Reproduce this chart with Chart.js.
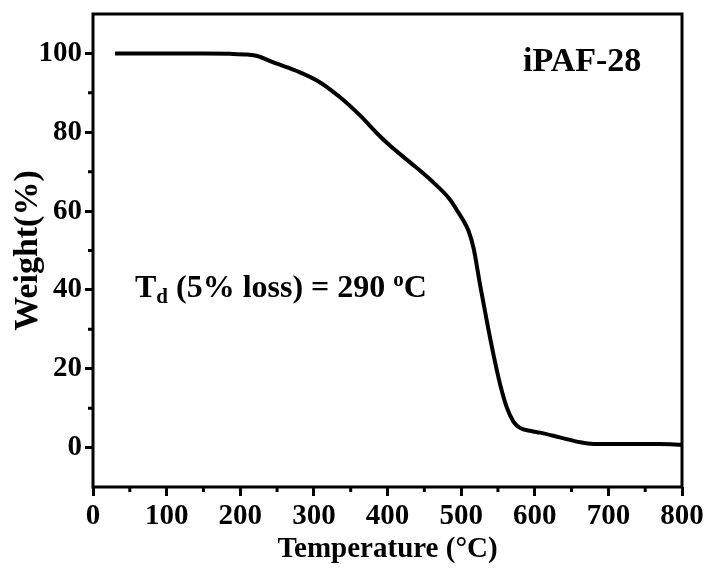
<!DOCTYPE html>
<html><head><meta charset="utf-8">
<script src="https://cdn.jsdelivr.net/npm/chart.js@4"></script>
<style>html,body{margin:0;padding:0;background:#fff}</style>
</head><body>
<canvas id="c" width="709" height="568"></canvas>
<script>
const temperature = [30, 100, 150, 186, 210, 222, 245, 281, 308, 336, 363, 387, 404, 431, 458, 485, 495, 503, 510, 517, 526, 535, 544, 553, 562, 571, 580, 595, 607, 634, 662, 680, 720, 770, 800];
const weight      = [100, 100, 100, 99.9, 99.7, 99.4, 97.7, 95.2, 92.7, 88.8, 84.2, 79.5, 76.5, 72.3, 68.0, 62.9, 60.0, 57.6, 55.0, 50.5, 41.0, 32.0, 23.5, 16.0, 10.2, 6.6, 5.0, 4.2, 3.8, 2.6, 1.35, 0.94, 0.9, 0.9, 0.7];
const xTicks = [0, 100, 200, 300, 400, 500, 600, 700, 800];
const yTicks = [0, 20, 40, 60, 80, 100];
const xMinor = [50, 150, 250, 350, 450, 550, 650, 750];
const yMinor = [10, 30, 50, 70, 90];
const xTitle = 'Temperature (°C)';
const yTitle = 'Weight(%)';
const sampleLabel = 'iPAF-28';
const sampleLabelAt = [584, 95.5];
const tdAt = [57, 38.2];

const FAM = '"Liberation Serif", "Times New Roman", serif';
const font = (s) => ({family: FAM, size: s, weight: 'bold'});

const framePlugin = {
  id: 'frame',
  afterDraw(chart) {
    const {ctx, chartArea: a, scales: {x, y}} = chart;
    ctx.save();
    ctx.strokeStyle = '#000';
    ctx.lineWidth = 3;
    ctx.strokeRect(a.left, a.top, a.right - a.left, a.bottom - a.top);
    ctx.beginPath();
    xMinor.forEach(v => { const p = x.getPixelForValue(v); ctx.moveTo(p, a.bottom); ctx.lineTo(p, a.bottom + 5); });
    yMinor.forEach(v => { const p = y.getPixelForValue(v); ctx.moveTo(a.left, p); ctx.lineTo(a.left - 5, p); });
    ctx.stroke();
    ctx.restore();
  }
};

const textPlugin = {
  id: 'texts',
  afterDatasetsDraw(chart) {
    const {ctx, scales: {x, y}} = chart;
    ctx.save();
    ctx.fillStyle = '#000';
    ctx.textBaseline = 'alphabetic';
    ctx.textAlign = 'left';
    ctx.font = 'bold 34px ' + FAM;
    ctx.fillText(sampleLabel, x.getPixelForValue(sampleLabelAt[0]), y.getPixelForValue(sampleLabelAt[1]));
    let px = x.getPixelForValue(tdAt[0]);
    const py = y.getPixelForValue(tdAt[1]);
    const big = 'bold 32px ' + FAM, small = 'bold 21px ' + FAM;
    const parts = [['T', big, 0], ['d', small, 6], [' (5% loss) = 290 ', big, 0], ['o', small, -11], ['C', big, 0]];
    parts.forEach(([t, f, dy]) => { ctx.font = f; ctx.fillText(t, px, py + dy); px += ctx.measureText(t).width; });
    ctx.restore();
  }
};

new Chart(document.getElementById('c'), {
  type: 'line',
  data: {
    datasets: [{
      data: temperature.map((t, i) => ({x: t, y: weight[i]})),
      borderColor: '#000',
      borderWidth: 4,
      pointRadius: 0,
      fill: false,
      cubicInterpolationMode: 'monotone'
    }]
  },
  options: {
    responsive: false,
    animation: false,
    layout: {padding: {left: 0, top: 14, right: 27, bottom: 0}},
    plugins: {legend: {display: false}, tooltip: {enabled: false}},
    scales: {
      x: {
        type: 'linear', position: 'bottom', min: 0, max: 800,
        afterBuildTicks: s => { s.ticks = xTicks.map(v => ({value: v})); },
        afterFit: s => { s.height = 81; s.paddingLeft = 0; s.paddingRight = 0; },
        grid: {drawOnChartArea: false, tickLength: 9, lineWidth: 3, color: '#000'},
        border: {display: false},
        ticks: {color: '#000', font: font(29), padding: 3, maxRotation: 0, autoSkip: false},
        title: {display: true, text: xTitle, color: '#000', font: font(29), padding: {top: 0, bottom: 1}}
      },
      y: {
        type: 'linear', position: 'left', min: -10, max: 110,
        afterBuildTicks: s => { s.ticks = yTicks.map(v => ({value: v})); },
        afterFit: s => { s.width = 93; s.paddingTop = 0; s.paddingBottom = 0; },
        grid: {drawOnChartArea: false, tickLength: 8, lineWidth: 3, color: '#000'},
        border: {display: false},
        ticks: {color: '#000', font: font(29), padding: 3, autoSkip: false},
        title: {display: true, text: yTitle, color: '#000', font: font(34), padding: {top: 8, bottom: 0}}
      }
    }
  },
  plugins: [framePlugin, textPlugin]
});
</script>
</body></html>
